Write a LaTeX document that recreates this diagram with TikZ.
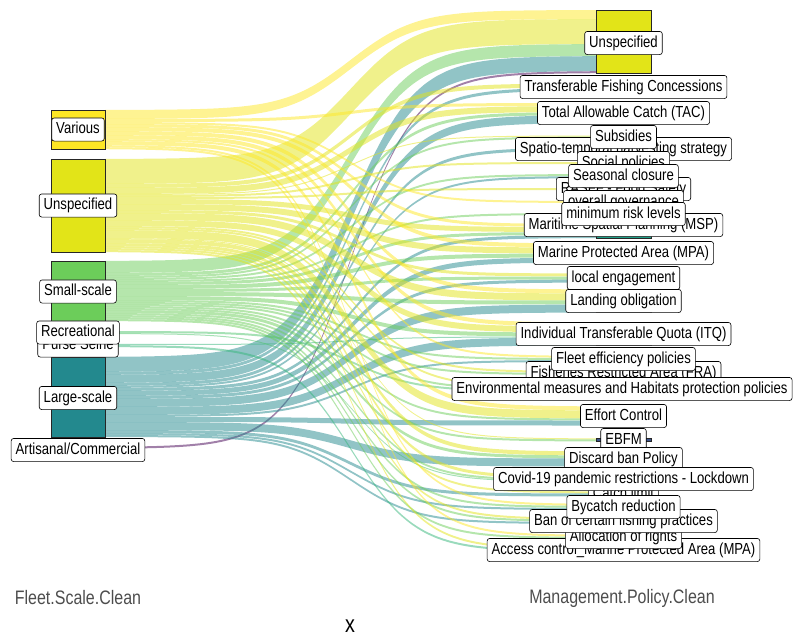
\documentclass[tikz,border=0pt]{standalone}
\usepackage{fontspec}
\setmainfont{Liberation Sans}
\newfontfamily\labfam{Liberation Sans}[FakeStretch=0.82]
\newcommand\labfont{\labfam\fontsize{16}{18}\selectfont}
\newcommand\axfont{\labfam\fontsize{19.5}{22}\selectfont}
\newcommand\ttlfont{\labfam\fontsize{24}{26}\selectfont}
% viridis node colours
\definecolor{fV}{HTML}{FDE725}
\definecolor{fU}{HTML}{E2E418}
\definecolor{fS}{HTML}{6CCD5A}
\definecolor{fR}{HTML}{4EC36B}
\definecolor{fP}{HTML}{34B679}
\definecolor{fL}{HTML}{23898E}
\definecolor{fA}{HTML}{440154}
\definecolor{axgray}{HTML}{4D4D4D}
\definecolor{rAccess}{HTML}{440154}
\definecolor{rAlloc}{HTML}{46085C}
\definecolor{rBan}{HTML}{481A6C}
\definecolor{rBycatch}{HTML}{482475}
\definecolor{rCatch}{HTML}{472D7B}
\definecolor{rCovid}{HTML}{443A83}
\definecolor{rDiscard}{HTML}{404688}
\definecolor{rEBFM}{HTML}{3B528B}
\definecolor{rEffort}{HTML}{38598C}
\definecolor{rEnv}{HTML}{355F8D}
\definecolor{rFRA}{HTML}{31688E}
\definecolor{rFleet}{HTML}{2C728E}
\definecolor{rITQ}{HTML}{297A8E}
\definecolor{rLanding}{HTML}{26828E}
\definecolor{rLocal}{HTML}{21918C}
\definecolor{rMPA}{HTML}{1F988B}
\definecolor{rMSP}{HTML}{1FA088}
\definecolor{rMin}{HTML}{22A785}
\definecolor{rOverall}{HTML}{28AE80}
\definecolor{rRASFF}{HTML}{3FBC73}
\definecolor{rSeasonal}{HTML}{5DC863}
\definecolor{rSocial}{HTML}{7AD151}
\definecolor{rSpatio}{HTML}{8FD744}
\definecolor{rSubs}{HTML}{A0DA39}
\definecolor{rTAC}{HTML}{B4DE2C}
\definecolor{rTFC}{HTML}{C8E020}

% running positions of the left strata
\def\LcV{110}\def\LcU{159}\def\LcS{261}\def\LcR{331}\def\LcP{344}\def\LcL{357}\def\LcA{447}
\def\Rc{0}
\newcommand\rstart[1]{\xdef\Rc{#1}}
\newcommand\flowrib[2]{%
  \pgfmathsetmacro\ya{\csname Lc#1\endcsname}%
  \pgfmathsetmacro\yc{\ya+#2}%
  \pgfmathsetmacro\yb{\Rc}%
  \pgfmathsetmacro\yd{\yb+#2}%
  \fill[flowsty, fill=f#1]
    plot[domain=0:1,samples=41,smooth,variable=\xx] ({105+491*\xx},{\ya+(\yb-\ya)/(1+exp(-15*(\xx-0.5)))})
    -- plot[domain=1:0,samples=41,smooth,variable=\xx] ({105+491*\xx},{\yc+(\yd-\yc)/(1+exp(-15*(\xx-0.5)))})
    -- cycle;%
  \expandafter\xdef\csname Lc#1\endcsname{\yc}%
  \xdef\Rc{\yd}%
}

\begin{document}
\begin{tikzpicture}[x=1pt,y=-1pt,
  flowsty/.style={fill opacity=0.5},
  stx/.style={draw=black!85, line width=0.6pt},
  lab/.style={draw=black, line width=0.6pt, fill=white, rounded corners=2.5pt,
    font=\labfont, inner xsep=4.5pt, inner ysep=3.8pt, text height=12pt, text depth=3.5pt},
  axl/.style={font=\axfont, text=axgray, inner sep=0pt}]
\useasboundingbox (0,0) rectangle (794,637);

% ---------- flows ----------
\rstart{10}\flowrib{V}{9}\flowrib{U}{25}\flowrib{S}{12}\flowrib{L}{15}\flowrib{A}{2}
\rstart{83.5}\flowrib{U}{4}\flowrib{L}{3}
\rstart{103}\flowrib{V}{3}\flowrib{U}{6}\flowrib{S}{3}\flowrib{L}{8}
\rstart{135.5}\flowrib{U}{1}\flowrib{S}{2}
\rstart{147.5}\flowrib{L}{3}
\rstart{162}\flowrib{U}{2}
\rstart{174}\flowrib{S}{2}\flowrib{L}{2}
\rstart{188}\flowrib{U}{2}
\rstart{201}\flowrib{V}{2}
\rstart{213}\flowrib{S}{2}
\rstart{224}\flowrib{V}{3}\flowrib{U}{5}\flowrib{S}{3}\flowrib{L}{3}
\rstart{243.5}\flowrib{V}{4}\flowrib{U}{6}\flowrib{S}{4}\flowrib{L}{5}
\rstart{273.5}\flowrib{U}{3}\flowrib{S}{3}\flowrib{L}{3}
\rstart{289.5}\flowrib{V}{4}\flowrib{U}{7}\flowrib{S}{4}\flowrib{L}{8}
\rstart{322.5}\flowrib{V}{4}\flowrib{U}{6}\flowrib{S}{4}\flowrib{P}{1}\flowrib{L}{8}
\rstart{356}\flowrib{V}{2}\flowrib{S}{2}\flowrib{L}{2}
\rstart{371}\flowrib{U}{2}\flowrib{S}{2}
\rstart{386}\flowrib{U}{2}\flowrib{S}{2}\flowrib{R}{2}
\rstart{406.5}\flowrib{V}{4}\flowrib{U}{8}\flowrib{S}{2}\flowrib{L}{5}
\rstart{438.5}\flowrib{U}{1}\flowrib{S}{2}
\rstart{451.5}\flowrib{U}{4}\flowrib{S}{3}\flowrib{L}{8}
\rstart{476}\flowrib{U}{3}\flowrib{S}{2}\flowrib{R}{1}
\rstart{491.5}\flowrib{U}{2}\flowrib{L}{3}
\rstart{504}\flowrib{V}{2}\flowrib{S}{2}\flowrib{L}{2}
\rstart{518}\flowrib{U}{2}\flowrib{S}{2}\flowrib{L}{2}
\rstart{535}\flowrib{V}{2}\flowrib{S}{2}
\rstart{548}\flowrib{U}{2}\flowrib{P}{2}

% ---------- left strata ----------
\draw[stx, fill=fV] (51,110) rectangle (105,149);
\draw[stx, fill=fU] (51,159) rectangle (105,252);
\draw[stx, fill=fS] (51,261) rectangle (105,321);
\draw[stx, fill=fR] (51,331) rectangle (105,334);
\draw[stx, fill=fP] (51,344) rectangle (105,347);
\draw[stx, fill=fL] (51,357) rectangle (105,437);
\draw[stx, fill=fA] (51,447) rectangle (105,449);

% ---------- right strata ----------
\draw[stx, fill=fU] (596,10) rectangle (651,73);
\draw[stx, fill=rTFC] (596,83.5) rectangle (651,90.5);
\draw[stx, fill=rTAC] (596,103) rectangle (651,123);
\draw[stx, fill=rSubs] (596,135.5) rectangle (651,138.5);
\draw[stx, fill=rSpatio] (596,147.5) rectangle (651,150.5);
\draw[stx, fill=rSocial] (596,162) rectangle (651,164);
\draw[stx, fill=rSeasonal] (596,174) rectangle (651,178);
\draw[stx, fill=rRASFF] (596,188) rectangle (651,190);
\draw[stx, fill=rOverall] (596,201) rectangle (651,203);
\draw[stx, fill=rMin] (596,213) rectangle (651,215);
\draw[stx, fill=rMSP] (596,224) rectangle (651,238);
\draw[stx, fill=rMPA] (596,243.5) rectangle (651,262.5);
\draw[stx, fill=rLocal] (596,273.5) rectangle (651,282.5);
\draw[stx, fill=rLanding] (596,289.5) rectangle (651,312.5);
\draw[stx, fill=rITQ] (596,322.5) rectangle (651,345.5);
\draw[stx, fill=rFleet] (596,356) rectangle (651,362);
\draw[stx, fill=rFRA] (596,371) rectangle (651,375);
\draw[stx, fill=rEnv] (596,386) rectangle (651,392);
\draw[stx, fill=rEffort] (596,406.5) rectangle (651,425.5);
\draw[stx, fill=rEBFM] (596,438.5) rectangle (651,441.5);
\draw[stx, fill=rDiscard] (596,451.5) rectangle (651,466.5);
\draw[stx, fill=rCovid] (596,476) rectangle (651,482);
\draw[stx, fill=rCatch] (596,491.5) rectangle (651,496.5);
\draw[stx, fill=rBycatch] (596,504) rectangle (651,510);
\draw[stx, fill=rBan] (596,518) rectangle (651,524);
\draw[stx, fill=rAlloc] (596,535) rectangle (651,539);
\draw[stx, fill=rAccess] (596,548) rectangle (651,552);

% ---------- left labels ----------
\node[lab] (lVar) at (78,129.5) {Various};
\node[lab] (lUns) at (78,205.5) {Unspecified};
\node[lab] (lSma) at (78,291.5) {Small-scale};
\node[lab] (lPur) at (78,345.5) {Purse Seine};
\node[lab] (lRec) at (78,332.5) {Recreational};
\node[lab] (lLar) at (78,398) {Large-scale};
\node[lab] (lArt) at (78,450) {Artisanal/Commercial};

% ---------- right labels ----------
\node[lab] (rUns) at (623.5,43) {Unspecified};
\node[lab] (rTFC) at (623.5,87) {Transferable Fishing Concessions};
\node[lab] (rTAC) at (623.5,113) {Total Allowable Catch (TAC)};
\node[lab] (rSpa) at (623.5,149) {Spatio-temporal harvesting strategy};
\node[lab] (rSub) at (623.5,137) {Subsidies};
\node[lab] (rSoc) at (623.5,163) {Social policies};
\node[lab] (rRAS) at (623.5,189) {RASFF - Food Safety};
\node[lab] (rSea) at (623.5,176) {Seasonal closure};
\node[lab] (rOve) at (623.5,202) {overall governance};
\node[lab] (rMSP) at (623.5,225) {Maritime Spatial Planning (MSP)};
\node[lab] (rMin) at (623.5,214) {minimum risk levels};
\node[lab] (rMPA) at (623.5,253) {Marine Protected Area (MPA)};
\node[lab] (rLoc) at (623.5,278) {local engagement};
\node[lab] (rLan) at (623.5,301) {Landing obligation};
\node[lab] (rITQ) at (623.5,334) {Individual Transferable Quota (ITQ)};
\node[lab] (rFRA) at (623.5,373) {Fisheries Restricted Area (FRA)};
\node[lab] (rFle) at (623.5,359) {Fleet efficiency policies};
\node[lab] (rEnv) at (622,389) {Environmental measures and Habitats protection policies};
\node[lab] (rEff) at (623.5,416) {Effort Control};
\node[lab] (rEBF) at (623.5,440) {EBFM};
\node[lab] (rDis) at (623.5,459) {Discard ban Policy};
\node[lab] (rAcc) at (623.5,550) {Access control\_Marine Protected Area (MPA)};
\node[lab] (rAll) at (623.5,537) {Allocation of rights};
\node[lab] (rBan) at (623.5,521) {Ban of certain fishing practices};
\node[lab] (rCat) at (623.5,494) {Catch limit};
\node[lab] (rByc) at (623.5,507) {Bycatch reduction};
\node[lab] (rCov) at (623.5,479) {Covid-19 pandemic restrictions - Lockdown};

% ---------- axis ----------
\node[axl] (axL) at (78,598) {Fleet.Scale.Clean};
\node[axl] (axR) at (622,598) {Management.Policy.Clean};
\node[font=\ttlfont, inner sep=0pt] (axT) at (350,626) {x};
\end{tikzpicture}
\end{document}
